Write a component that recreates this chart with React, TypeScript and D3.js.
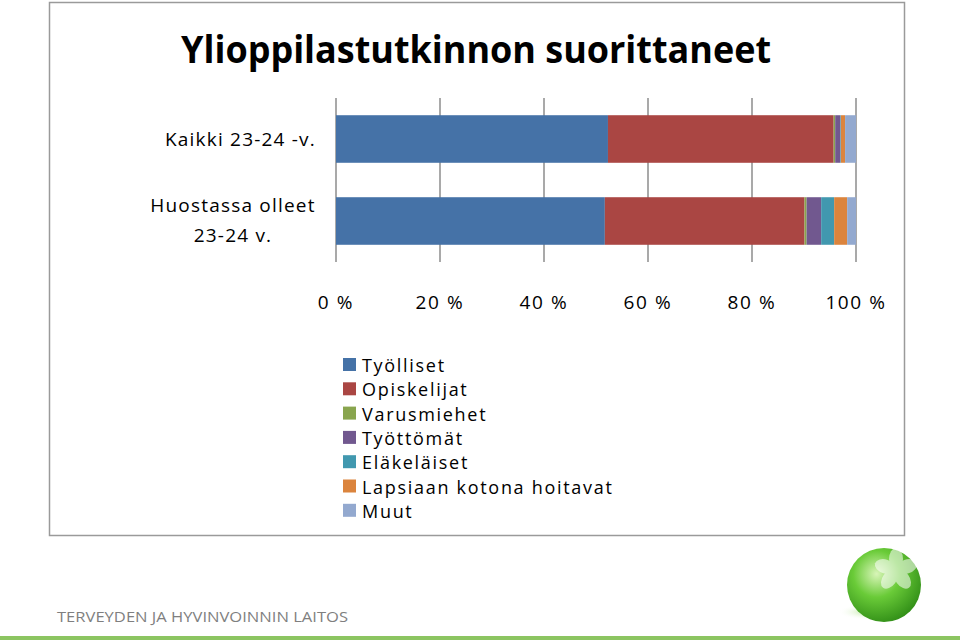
import React from "react";
import * as d3 from "d3";

const categories = ["Kaikki 23-24 -v.", "Huostassa olleet 23-24 v."];
const categoryLines = [["Kaikki 23-24 -v."], ["Huostassa olleet", "23-24 v."]];
const seriesNames = ["Työlliset", "Opiskelijat", "Varusmiehet", "Työttömät", "Eläkeläiset", "Lapsiaan kotona hoitavat", "Muut"];
const kaikkiValues = [52.3, 43.4, 0.3, 1.0, 0.1, 0.8, 2.1];
const huostassaValues = [51.7, 38.4, 0.4, 2.8, 2.5, 2.5, 1.7];
const tickValues = [0, 20, 40, 60, 80, 100];
const colors = ["#4572A7", "#AA4643", "#89A54E", "#71588F", "#4198AF", "#DB843D", "#93A9CF"];

const title = "Ylioppilastutkinnon suorittaneet";
const footer = "TERVEYDEN JA HYVINVOINNIN LAITOS";

export default function App() {
  const W = 960, H = 640;
  const x = d3.scaleLinear().domain([0, 100]).range([336, 856]);
  const y = d3.scaleBand().domain(categories).range([98, 262]).paddingInner(0.42).paddingOuter(0.21);
  const values = [kaikkiValues, huostassaValues];
  const stackData = categories.map((c, i) => {
    const o: any = { cat: c };
    seriesNames.forEach((s, j) => (o[s] = values[i][j]));
    return o;
  });
  const stacked = d3.stack().keys(seriesNames)(stackData as any);
  const font = "'Open Sans', 'DejaVu Sans', sans-serif";
  return (
    <svg width={W} height={H} style={{ position: "absolute", left: 0, top: 0 }}>
      <defs>
        <radialGradient id="ball" cx="0.4" cy="0.35" r="0.7">
          <stop offset="0" stopColor="#d8f5b8" />
          <stop offset="0.45" stopColor="#6acb38" />
          <stop offset="1" stopColor="#2f8c16" />
        </radialGradient>
        <radialGradient id="shadow" cx="0.5" cy="0.5" r="0.5">
          <stop offset="0" stopColor="#9edc70" stopOpacity="0.8" />
          <stop offset="1" stopColor="#ffffff" stopOpacity="0" />
        </radialGradient>
      </defs>
      <rect x={0} y={0} width={W} height={H} fill="#fff" />
      <rect x={49.5} y={2.5} width={855} height={533} fill="#fff" stroke="#9a9a9a" strokeWidth={1.5} />
      <text x={476} y={63} textAnchor="middle" fontFamily={font} fontWeight="bold" fontSize={38}
        textLength={590} lengthAdjust="spacingAndGlyphs" fill="#000">{title}</text>
      {tickValues.map((t) => (
        <line key={t} x1={x(t)} x2={x(t)} y1={98} y2={262} stroke="#8c8c8c" strokeWidth={1.5} />
      ))}
      {stacked.map((layer, j) => (
        <g key={j} fill={colors[j]}>
          {layer.map((d: any, i) => (
            <rect key={i} x={x(d[0])} y={y(categories[i])} width={Math.max(0, x(d[1]) - x(d[0]))} height={y.bandwidth()} />
          ))}
        </g>
      ))}
      {tickValues.map((t) => (
        <text key={t} x={x(t)} y={309} textAnchor="middle" fontFamily={font} fontSize={19} letterSpacing={1.6} fill="#000">{t} %</text>
      ))}
      <text x={316} y={146} textAnchor="end" fontFamily={font} fontSize={19} letterSpacing={1.2} fill="#000">{categoryLines[0][0]}</text>
      <text x={233} y={212} textAnchor="middle" fontFamily={font} fontSize={19} letterSpacing={1.2} fill="#000">{categoryLines[1][0]}</text>
      <text x={233} y={242} textAnchor="middle" fontFamily={font} fontSize={19} letterSpacing={1.2} fill="#000">{categoryLines[1][1]}</text>
      {seriesNames.map((s, j) => (
        <g key={s}>
          <rect x={343} y={358 + j * 24.3} width={13} height={13} fill={colors[j]} />
          <text x={362} y={372 + j * 24.3} fontFamily={font} fontSize={18} letterSpacing={1.7} fill="#000">{s}</text>
        </g>
      ))}
      <text x={57} y={622} fontFamily={font} fontSize={15} fill="#7f7f7f" textLength={291} lengthAdjust="spacingAndGlyphs">{footer}</text>
      <rect x={0} y={636} width={W} height={4} fill="#8cc561" />
      <ellipse cx={870} cy={612} rx={32} ry={8} fill="url(#shadow)" />
      <circle cx={884} cy={585} r={37} fill="url(#ball)" />
      <g fill="#ffffff" opacity={0.55} transform="translate(896,570)">
        {[0, 72, 144, 216, 288].map((a) => (
          <ellipse key={a} cx={0} cy={-11} rx={7} ry={11} transform={`rotate(${a})`} />
        ))}
      </g>
    </svg>
  );
}
